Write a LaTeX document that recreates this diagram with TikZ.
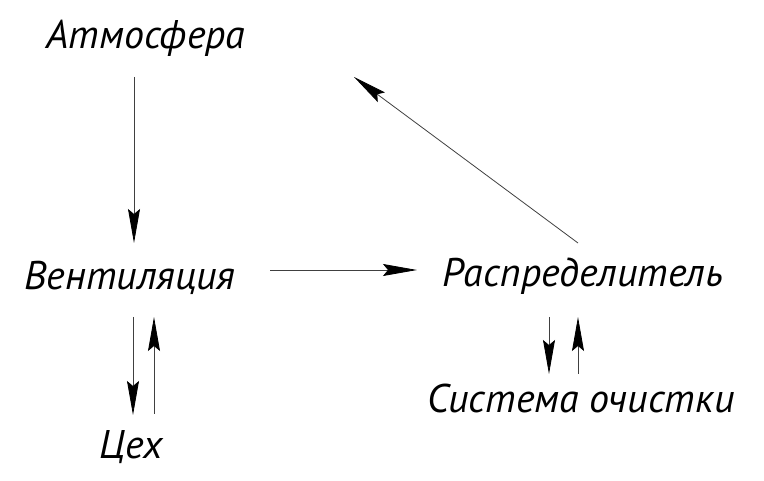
\documentclass[tikz,border=0pt]{standalone}
\usepackage{fontspec}
\setmainfont{PT Sans}
\usetikzlibrary{arrows.meta}
\tikzset{
  lbl/.style={anchor=base, inner sep=0pt, font=\fontsize{40}{40}\selectfont\itshape},
  flow/.style={draw=black!75, line width=0.8pt, -{Stealth[length=34pt,width=12pt,inset=5pt,color=black]}}
}
\begin{document}
\begin{tikzpicture}[x=1pt,y=-1pt]
\useasboundingbox (0,0) rectangle (764,481);
\node[lbl] (atm) at (146,49) {Атмосфера};
\node[lbl] (vent) at (130,290) {Вентиляция};
\node[lbl] (rasp) at (583,287) {Распределитель};
\node[lbl] (sys) at (581,413) {Система очистки};
\node[lbl] (ceh) at (131,458) {Цех};
\coordinate (a1) at (134,77);
\coordinate (a2) at (134,243);
\coordinate (b1) at (270,270);
\coordinate (b2) at (417,270);
\coordinate (c1) at (578,243);
\coordinate (c2) at (354,77);
\coordinate (d1) at (133,317);
\coordinate (d2) at (133,415);
\coordinate (e1) at (154,414);
\coordinate (e2) at (154,317);
\coordinate (f1) at (549,317);
\coordinate (f2) at (549,374);
\coordinate (g1) at (578,374);
\coordinate (g2) at (578,317);
\draw[flow] (a1) -- (a2);
\draw[flow] (b1) -- (b2);
\draw[flow] (c1) -- (c2);
\draw[flow] (d1) -- (d2);
\draw[flow] (e1) -- (e2);
\draw[flow] (f1) -- (f2);
\draw[flow] (g1) -- (g2);
\end{tikzpicture}
\end{document}
